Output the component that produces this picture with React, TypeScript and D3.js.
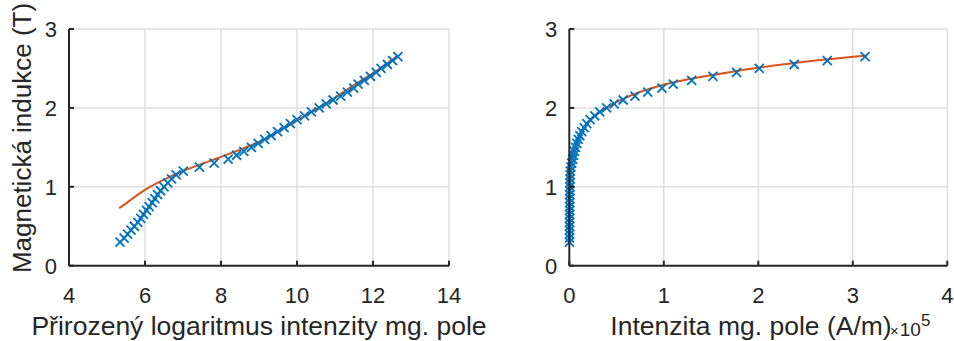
import { useEffect, useRef } from "react";
import * as d3 from "d3";

// measured B-H points: induction (T) and field intensity (A/m)
const inductionT = [
    0.30, 0.35, 0.40, 0.45, 0.50, 0.55, 0.60, 0.65, 0.70, 0.75, 0.80, 0.85,
    0.90, 0.95, 1.00, 1.05, 1.10, 1.15, 1.20, 1.25, 1.30, 1.35, 1.40, 1.45,
    1.50, 1.55, 1.60, 1.65, 1.70, 1.75, 1.80, 1.85, 1.90, 1.95, 2.00, 2.05,
    2.10, 2.15, 2.20, 2.25, 2.30, 2.35, 2.40, 2.45, 2.50, 2.55, 2.60, 2.65,
];
const fieldAm = [
    209, 233, 255, 279, 305, 334, 361, 388, 420, 450, 488, 523,
    561, 608, 665, 735, 812, 916, 1108, 1690, 2490, 3600, 4490, 5430,
    6630, 7940, 9410, 11150, 13200, 15700, 18500, 22000, 26900, 32200, 39500, 47500,
    57000, 69500, 83000, 98000, 110000, 129500, 152000, 177000, 201000, 238000, 273000, 313000,
];

// fitted curve (B vs ln H)
const fitLnH = [5.32, 5.5, 6.0, 6.5, 7.0, 7.5, 8.0, 8.5, 9.0, 9.5, 10.0, 10.5, 11.0, 11.5, 12.0, 12.5, 12.66];
const fitB = [0.73, 0.79, 0.96, 1.09, 1.20, 1.29, 1.38, 1.47, 1.57, 1.70, 1.84, 1.98, 2.13, 2.29, 2.44, 2.61, 2.665];

const leftTicksX = [4, 6, 8, 10, 12, 14];
const rightTicksX = [0, 1, 2, 3, 4]; // ×10^5 A/m
const ticksY = [0, 1, 2, 3];

const W = 954;
const H = 341;
const BLUE = "#0072BD";
const ORANGE = "#D95319";
const AXIS = "#262626";
const GRID = "#dfdfdf";
const FONT = "'Liberation Sans', Arial, Helvetica, sans-serif";

export default function App ()
{
    const svgRef = useRef<SVGSVGElement>( null );

    useEffect( () =>
    {
        if ( !svgRef.current ) return;
        const svg = d3.select( svgRef.current );
        svg.selectAll( "*" ).remove();

        const y = d3.scaleLinear().domain( [ 0, 3 ] ).range( [ 265.7, 29 ] );
        const xl = d3.scaleLinear().domain( [ 4, 14 ] ).range( [ 69, 449 ] );
        const xr = d3.scaleLinear().domain( [ 0, 4 ] ).range( [ 569.3, 947.3 ] );

        const pts = inductionT.map( ( b, i ) => ( { b, h: fieldAm[ i ] } ) );
        const fit = fitLnH.map( ( l, i ) => ( { l, b: fitB[ i ] } ) );

        const panel = (
            x: d3.ScaleLinear<number, number>,
            ticksX: number[],
            px: ( h: number ) => number,
            fx: ( l: number ) => number,
            curve: d3.CurveFactory,
        ) =>
        {
            const g = svg.append( "g" );
            const [ x0, x1 ] = x.range();
            const [ y0, y1 ] = y.range();

            // grid
            ticksX.slice( 1 ).forEach( t =>
                g.append( "line" ).attr( "x1", x( t ) ).attr( "x2", x( t ) ).attr( "y1", y0 ).attr( "y2", y1 )
                    .attr( "stroke", GRID ).attr( "stroke-width", 1.5 ) );
            ticksY.slice( 1 ).forEach( t =>
                g.append( "line" ).attr( "x1", x0 ).attr( "x2", x1 ).attr( "y1", y( t ) ).attr( "y2", y( t ) )
                    .attr( "stroke", GRID ).attr( "stroke-width", 1.5 ) );

            // fit line
            const line = d3.line<{ l: number; b: number }>()
                .x( d => fx( d.l ) ).y( d => y( d.b ) ).curve( curve );
            g.append( "path" ).attr( "d", line( fit ) as string ).attr( "fill", "none" )
                .attr( "stroke", ORANGE ).attr( "stroke-width", 2 );

            // markers
            g.selectAll( "path.m" ).data( pts ).join( "path" ).attr( "class", "m" )
                .attr( "transform", d => `translate(${ px( d.h ) },${ y( d.b ) })` )
                .attr( "d", "M-4.5,-4.5L4.5,4.5M-4.5,4.5L4.5,-4.5" )
                .attr( "stroke", BLUE ).attr( "stroke-width", 1.8 ).attr( "fill", "none" );

            // axes
            g.append( "line" ).attr( "x1", x0 ).attr( "x2", x1 ).attr( "y1", y0 ).attr( "y2", y0 )
                .attr( "stroke", AXIS ).attr( "stroke-width", 2 );
            g.append( "line" ).attr( "x1", x0 ).attr( "x2", x0 ).attr( "y1", y0 ).attr( "y2", y1 )
                .attr( "stroke", AXIS ).attr( "stroke-width", 2 );
            ticksX.forEach( t =>
            {
                g.append( "line" ).attr( "x1", x( t ) ).attr( "x2", x( t ) ).attr( "y1", y0 ).attr( "y2", y0 - 5 )
                    .attr( "stroke", AXIS ).attr( "stroke-width", 2 );
                g.append( "text" ).attr( "x", x( t ) ).attr( "y", y0 + 37 ).attr( "text-anchor", "middle" )
                    .attr( "fill", AXIS ).style( "font-size", "22px" ).style( "font-family", FONT ).text( String( t ) );
            } );
            ticksY.forEach( t =>
            {
                g.append( "line" ).attr( "x1", x0 ).attr( "x2", x0 + 5 ).attr( "y1", y( t ) ).attr( "y2", y( t ) )
                    .attr( "stroke", AXIS ).attr( "stroke-width", 2 );
                g.append( "text" ).attr( "x", x0 - 12 ).attr( "y", y( t ) + 8 ).attr( "text-anchor", "end" )
                    .attr( "fill", AXIS ).style( "font-size", "22px" ).style( "font-family", FONT ).text( String( t ) );
            } );
        };

        panel( xl, leftTicksX, h => xl( Math.log( h ) ), l => xl( l ), d3.curveNatural );
        panel( xr, rightTicksX, h => xr( h / 1e5 ), l => xr( Math.exp( l ) / 1e5 ), d3.curveMonotoneX );

        // axis labels
        svg.append( "text" ).attr( "x", 259 ).attr( "y", 335 ).attr( "text-anchor", "middle" )
            .attr( "fill", AXIS ).style( "font-size", "26.5px" ).style( "font-family", FONT )
            .text( "Přirozený logaritmus intenzity mg. pole" );
        svg.append( "text" ).attr( "x", 751 ).attr( "y", 335 ).attr( "text-anchor", "middle" )
            .attr( "fill", AXIS ).style( "font-size", "26.5px" ).style( "font-family", FONT )
            .text( "Intenzita mg. pole (A/m)" );
        const exp = svg.append( "text" ).attr( "x", 890 ).attr( "y", 336 )
            .attr( "fill", AXIS ).style( "font-size", "19px" ).style( "font-family", FONT );
        exp.append( "tspan" ).style( "font-size", "15px" ).text( "×" );
        exp.append( "tspan" ).attr( "dx", 1 ).text( "10" );
        exp.append( "tspan" ).attr( "dy", -10 ).style( "font-size", "17px" ).text( "5" );

        svg.append( "text" ).attr( "transform", "translate(31,138) rotate(-90)" ).attr( "text-anchor", "middle" )
            .attr( "fill", AXIS ).style( "font-size", "26px" ).style( "font-family", FONT )
            .text( "Magnetická indukce (T)" );
    }, [] );

    return (
        <svg ref={ svgRef } width={ W } height={ H }
            style={ { position: "absolute", left: 0, top: 0, background: "#fff" } } />
    );
}
